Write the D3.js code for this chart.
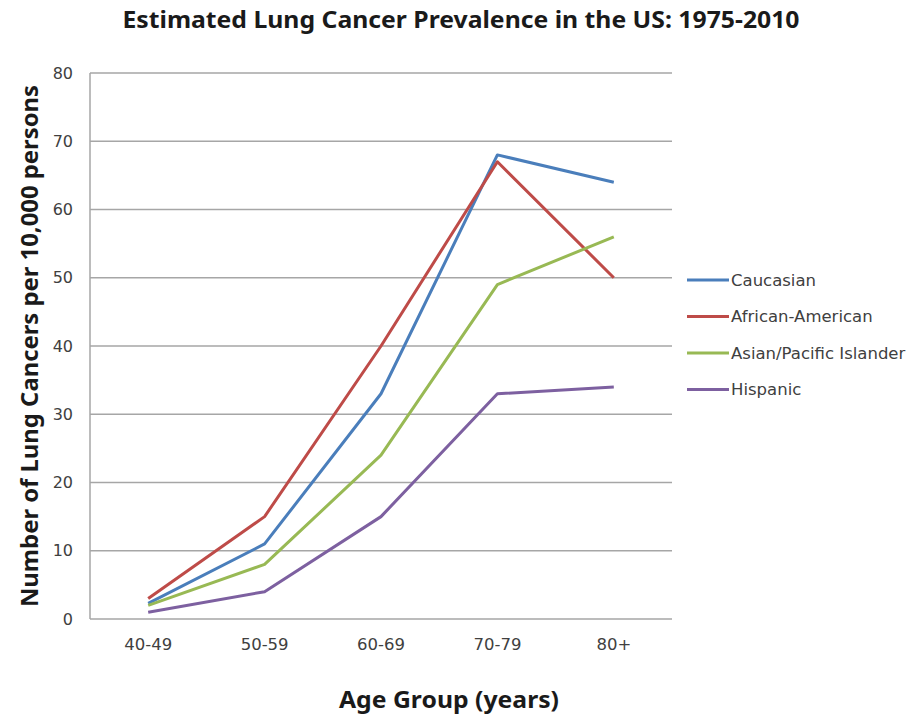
<!DOCTYPE html>
<html>
<head>
<meta charset="utf-8">
<script src="https://cdn.jsdelivr.net/npm/d3@7"></script>
<style>
  body { margin: 0; background: white; }
  svg { display: block; }
</style>
</head>
<body>
<svg id="chart"></svg>
<script>
var age_groups = ['40-49', '50-59', '60-69', '70-79', '80+'];
var series_names = ['Caucasian', 'African-American', 'Asian/Pacific Islander', 'Hispanic'];
var caucasian = [2.3, 11, 33, 68, 64];
var african_american = [3, 15, 40, 67, 50];
var asian_pacific = [2, 8, 24, 49, 56];
var hispanic = [1, 4, 15, 33, 34];
var y_ticks = [0, 10, 20, 30, 40, 50, 60, 70, 80];

var series_values = [caucasian, african_american, asian_pacific, hispanic];
var colors = ['#4a7ebb', '#be4b48', '#98b954', '#7d60a0'];

var width = 919, height = 719;
var margin = {left: 90, top: 73, right: 247, bottom: 100};
var plot_w = width - margin.left - margin.right;
var plot_h = height - margin.top - margin.bottom;

var chart = d3.select('#chart')
    .attr('width', width)
    .attr('height', height);

var xs = d3.scaleBand()
    .domain(age_groups)
    .range([0, plot_w]);

var ys = d3.scaleLinear()
    .domain([0, 80])
    .range([plot_h, 0]);

var g = chart.append('g')
    .attr('transform', 'translate(' + margin.left + ',' + margin.top + ')');

// gridlines
g.append('g')
    .selectAll('line')
    .data(y_ticks)
    .enter()
    .append('line')
        .attr('x1', 0)
        .attr('x2', plot_w)
        .attr('y1', d => ys(d))
        .attr('y2', d => ys(d))
        .attr('stroke', '#a6a6a6')
        .attr('stroke-width', 1.5);

// left axis line
g.append('line')
    .attr('x1', 0).attr('x2', 0)
    .attr('y1', 0).attr('y2', plot_h)
    .attr('stroke', '#a6a6a6')
    .attr('stroke-width', 1.5);

// y tick labels
var y_axis = g.append('g')
    .call(d3.axisLeft(ys).tickValues(y_ticks).tickSize(0).tickPadding(17));
y_axis.select('.domain').remove();
y_axis.selectAll('text')
    .style('font-family', 'DejaVu Sans, Verdana, sans-serif')
    .style('font-size', '16px')
    .attr('fill', '#404040');

// x tick labels
var x_axis = g.append('g')
    .attr('transform', 'translate(0,' + plot_h + ')')
    .call(d3.axisBottom(xs).tickSize(0).tickPadding(19));
x_axis.select('.domain').remove();
x_axis.selectAll('text')
    .style('font-family', 'DejaVu Sans, Verdana, sans-serif')
    .style('font-size', '16.5px')
    .attr('fill', '#404040');

// lines
var line = d3.line()
    .x((d, i) => xs(age_groups[i]) + xs.bandwidth() / 2)
    .y(d => ys(d));

for (var i = 0; i < series_values.length; i++) {
    g.append('path')
        .datum(series_values[i])
        .attr('fill', 'none')
        .attr('stroke', colors[i])
        .attr('stroke-width', 3)
        .attr('stroke-linejoin', 'round')
        .attr('d', line);
}

// legend
var legend = chart.append('g')
    .attr('transform', 'translate(687,280)');
legend.selectAll('line')
    .data(series_names)
    .enter()
    .append('line')
        .attr('x1', 0)
        .attr('x2', 42)
        .attr('y1', (d, i) => i * 36.5)
        .attr('y2', (d, i) => i * 36.5)
        .attr('stroke', (d, i) => colors[i])
        .attr('stroke-width', 3);
legend.selectAll('text')
    .data(series_names)
    .enter()
    .append('text')
        .attr('x', 44)
        .attr('y', (d, i) => i * 36.5)
        .attr('dy', '0.35em')
        .style('font-family', 'DejaVu Sans, Verdana, sans-serif')
        .style('font-size', '16.5px')
        .attr('fill', '#404040')
        .text(d => d);

// titles
chart.append('text')
    .attr('x', 461)
    .attr('y', 28)
    .attr('text-anchor', 'middle')
    .attr('textLength', 677)
    .attr('lengthAdjust', 'spacingAndGlyphs')
    .style('font-family', 'Noto Sans, sans-serif')
    .style('font-weight', 'bold')
    .style('font-size', '23px')
    .attr('fill', '#1a1a1a')
    .text('Estimated Lung Cancer Prevalence in the US: 1975-2010');

chart.append('text')
    .attr('transform', 'translate(38,346) rotate(-90)')
    .attr('text-anchor', 'middle')
    .attr('textLength', 522)
    .attr('lengthAdjust', 'spacingAndGlyphs')
    .style('font-family', 'Noto Sans, sans-serif')
    .style('font-weight', 'bold')
    .style('font-size', '23px')
    .attr('fill', '#1a1a1a')
    .text('Number of Lung Cancers per 10,000 persons');

chart.append('text')
    .attr('x', 449)
    .attr('y', 708)
    .attr('text-anchor', 'middle')
    .attr('textLength', 220)
    .attr('lengthAdjust', 'spacingAndGlyphs')
    .style('font-family', 'Noto Sans, sans-serif')
    .style('font-weight', 'bold')
    .style('font-size', '23px')
    .attr('fill', '#1a1a1a')
    .text('Age Group (years)');
</script>
</body>
</html>
